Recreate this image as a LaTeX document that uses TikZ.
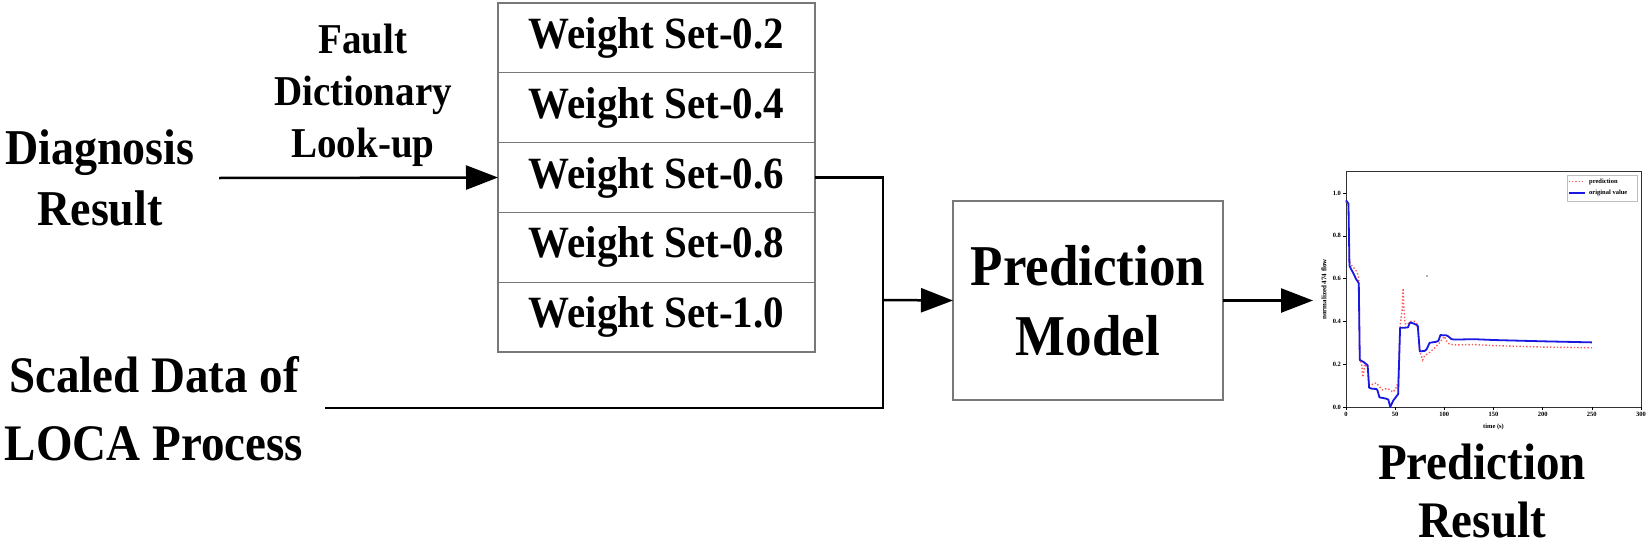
\documentclass[tikz,border=0pt]{standalone}
\usepackage{fontspec}
\usepackage{graphicx}
\setmainfont{Liberation Serif}
\usetikzlibrary{arrows.meta}
\definecolor{boxgray}{RGB}{120,120,120}
\definecolor{predred}{RGB}{250,90,90}
\definecolor{origblue}{RGB}{25,25,225}
\newcommand{\vstr}[1]{\scalebox{1}[1.09]{#1}}
\begin{document}
\begin{tikzpicture}[x=1pt,y=-1pt,
  lbl/.style={align=center, inner sep=0pt, font=\fontsize{46}{61}\selectfont\bfseries},
  wcell/.style={draw=boxgray, line width=1.3pt, minimum width=317pt, minimum height=69.8pt,
    inner sep=0pt, outer sep=0pt, font=\fontsize{41}{49}\selectfont\bfseries},
  pmbox/.style={draw=boxgray, line width=1.3pt, minimum width=270pt, minimum height=199pt,
    inner sep=0pt, outer sep=0pt, align=center, font=\fontsize{53}{70}\selectfont\bfseries},
  conn/.style={line width=2.5pt, black, line join=miter},
  arr/.style={conn, -{Triangle[length=32pt,width=24pt]}},
  tick/.style={line width=0.6pt, black},
  ticklbl/.style={inner sep=0pt, font=\fontsize{6.5}{7}\selectfont\bfseries},
]
\useasboundingbox (0,0) rectangle (1650,549);
\fill[white] (0,0) rectangle (1650,549);

% left labels
\node[lbl] (diag) at (100,178) {\vstr{Diagnosis}\\\vstr{Result}};
\node[lbl, font=\fontsize{39}{52}\selectfont\bfseries] (fault) at (363,95) {\vstr{Fault}\\\vstr{Dictionary}\\\vstr{Look-up}};
\node[lbl, font=\fontsize{47}{68}\selectfont\bfseries] (scaled) at (154,409) {\vstr{Scaled Data of}\\\vstr{LOCA Process}};

% weight set stack
\node[wcell] (w1) at (656.5,37.9) {\vstr{Weight Set-0.2}};
\node[wcell] (w2) at (656.5,107.7) {\vstr{Weight Set-0.4}};
\node[wcell] (w3) at (656.5,177.5) {\vstr{Weight Set-0.6}};
\node[wcell] (w4) at (656.5,247.3) {\vstr{Weight Set-0.8}};
\node[wcell] (w5) at (656.5,317.1) {\vstr{Weight Set-1.0}};

% prediction model
\node[pmbox] (pm) at (1088,300.5) {\vstr{Prediction}\\\vstr{Model}};

% connectors
\coordinate (dstart) at (219,178);
\coordinate (sstart) at (325,408);
\coordinate (j) at (883,300);
\coordinate (plotin) at (1313,300.5);
\draw[arr] (dstart) -- (w3.west);
\draw[conn] (sstart) -| (j) |- (w3.east);
\draw[arr] (j) -- (pm.west);
\draw[arr] (pm.east) -- (plotin);

% plot
\begin{scope}[shift={(1346,407)}, x=0.98333pt, y=214pt]
  \draw[line width=0.8pt, black!80] (0,0) rectangle (300,1.1);
  \foreach \t in {0,50,100,150,200,250,300} {
    \draw[tick] (\t,0) -- (\t,-0.015);
    \node[ticklbl, anchor=north] at (\t,-0.025) {\t};
  }
  \foreach \v/\l in {0/0.0,0.2/0.2,0.4/0.4,0.6/0.6,0.8/0.8,1.0/1.0} {
    \draw[tick] (0,\v) -- (-3,\v);
    \node[ticklbl, anchor=east] at (-5,\v) {\l};
  }
  \node[ticklbl] (xlab) at (150,-0.095) {time (s)};
  \node[ticklbl, rotate=90, font=\fontsize{7}{8}\selectfont\bfseries] (ylab) at (-22.5,0.55) {normalized 474 flow};
  % stray dot
  \fill[black!60] (82.4,0.612) circle[radius=0.9pt];
  % prediction
  \draw[predred, line width=1.4pt, dotted] plot coordinates {
    (0,0.96) (2.5,0.94) (3.5,0.68) (6,0.66) (10,0.64) (12,0.62) (13,0.60) (14,0.22) (16,0.20)
    (17,0.14) (18,0.16) (19,0.2) (22,0.18) (23.5,0.1) (25,0.1) (28,0.11) (31,0.112) (33,0.1)
    (35,0.09) (37,0.08) (40,0.085) (43,0.085) (46,0.075) (48,0.07) (51,0.09) (53,0.12) (55,0.38)
    (57,0.45) (58,0.555) (59,0.45) (60,0.39) (62,0.385) (66,0.4) (70,0.4) (72,0.39) (73,0.36)
    (75,0.26) (78,0.22) (80,0.24) (85,0.255) (90,0.275) (95,0.3) (100,0.33) (102,0.31) (105,0.295)
    (110,0.29) (130,0.292) (150,0.287) (200,0.28) (250,0.277)};
  % original value
  \draw[origblue, line width=1.8pt, line join=round] plot coordinates {
    (0,0.966) (2.5,0.95) (3.5,0.66) (4,0.655) (8,0.62) (10,0.60) (13,0.578) (14,0.22) (18,0.21)
    (22,0.195) (23.5,0.09) (26,0.086) (31,0.084) (32,0.078) (34,0.045) (40,0.04) (43,0.035)
    (45,0.0) (48,0.03) (53,0.06) (55,0.37) (58,0.37) (63,0.372) (65,0.395) (69,0.39) (73,0.38)
    (75,0.26) (80,0.262) (82,0.27) (85,0.3) (92,0.305) (94,0.31) (96,0.336) (102,0.335) (104,0.33)
    (107,0.318) (110,0.315) (130,0.317) (150,0.313) (200,0.307) (250,0.302)};
\end{scope}
% legend
\draw[black!25, line width=0.5pt, fill=white] (1567,175) rectangle (1637,201);
\draw[predred, line width=1.2pt, dotted] (1569,181.5) -- (1585,181.5);
\draw[origblue, line width=1.6pt] (1569,193) -- (1585,193);
\node[ticklbl, anchor=west] (lgp) at (1589,181.5) {prediction};
\node[ticklbl, anchor=west] (lgo) at (1589,193) {original value};

% prediction result label
\node[lbl, font=\fontsize{47}{58}\selectfont\bfseries] (pres) at (1482,491) {\vstr{Prediction}\\\vstr{Result}};
\end{tikzpicture}
\end{document}
